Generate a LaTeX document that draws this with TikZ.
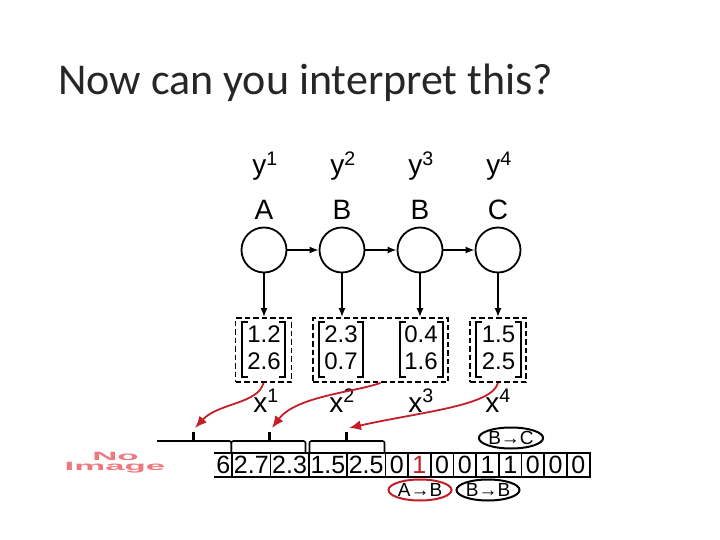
\documentclass[tikz,border=0pt]{standalone}
\usepackage{fontspec}
\setmainfont{Liberation Sans}
\newfontfamily\titlefont{Carlito}
\usetikzlibrary{arrows.meta,shapes.geometric}
\definecolor{arrred}{RGB}{196,30,40}
\definecolor{noimg}{RGB}{238,120,125}
\begin{document}
\begin{tikzpicture}[x=1pt,y=-1pt,
  state/.style={circle,draw,line width=1.8pt,minimum size=45pt,inner sep=0pt},
  blk/.style={-{Latex[length=9pt,width=7pt]},line width=1.6pt},
  dbox/.style={draw,dash pattern=on 5.5pt off 3pt,line width=1.8pt,inner sep=0pt,minimum height=64pt},
  lab/.style={font=\fontsize{28}{28}\selectfont,anchor=base,inner sep=0pt},
  num/.style={font=\fontsize{24}{24}\selectfont,anchor=base,inner sep=0pt},
  mbr/.style={line width=2pt},
  cell/.style={draw,line width=1.7pt,minimum height=24pt,inner sep=0pt,anchor=north west,
    text height=17.5pt,text depth=0pt,font=\fontsize{25}{25}\selectfont},
  wide/.style={minimum width=38.3pt},
  narrow/.style={minimum width=22.7pt},
  redarr/.style={-{Latex[length=12pt,width=10pt]},draw=arrred,line width=1.8pt},
  brace/.style={line width=1.6pt,rounded corners=2pt},
  tick/.style={line width=3pt},
  trans/.style={ellipse,draw,line width=2pt,minimum width=63pt,minimum height=21pt,inner sep=0pt,
    font=\fontsize{19}{19}\selectfont},
  noimgtext/.style={text=noimg,font=\bfseries\fontsize{12}{12}\selectfont,anchor=base,inner sep=0pt}
]
\useasboundingbox[fill=white] (0,0) rectangle (720,540);

% title
\node[font=\titlefont\fontsize{44}{44}\selectfont,anchor=base west,inner sep=0pt,text=black!85] (title) at (58,95) {Now can you interpret this?};

% y labels and states
\node[lab] (y1) at (265,175) {y\textsuperscript{1}};
\node[lab] (y2) at (343,175) {y\textsuperscript{2}};
\node[lab] (y3) at (421,175) {y\textsuperscript{3}};
\node[lab] (y4) at (499,175) {y\textsuperscript{4}};
\node[lab] (s1) at (264,220) {A};
\node[lab] (s2) at (342,220) {B};
\node[lab] (s3) at (420,220) {B};
\node[lab] (s4) at (498,220) {C};

\node[state] (c1) at (264,250) {};
\node[state] (c2) at (342,250) {};
\node[state] (c3) at (420,250) {};
\node[state] (c4) at (498,250) {};
\draw[blk] (c1) -- (c2);
\draw[blk] (c2) -- (c3);
\draw[blk] (c3) -- (c4);

% dashed boxes
\node[dbox,minimum width=56pt] (b1) at (263.5,350) {};
\node[dbox,minimum width=135pt] (b2) at (380.5,350) {};
\node[dbox,minimum width=56pt] (b4) at (498,350) {};
\draw[blk] (c1.south) -- (c1.south |- b1.north);
\draw[blk] (c2.south) -- (c2.south |- b2.north);
\draw[blk] (c3.south) -- (c3.south |- b2.north);
\draw[blk] (c4.south) -- (c4.south |- b4.north);

% matrices
\node[num] (m11) at (264,342) {1.2};
\node[num] (m12) at (264,369) {2.6};
\node[num] (m21) at (341,342) {2.3};
\node[num] (m22) at (341,369) {0.7};
\node[num] (m31) at (421,342) {0.4};
\node[num] (m32) at (421,369) {1.6};
\node[num] (m41) at (498.5,342) {1.5};
\node[num] (m42) at (498.5,369) {2.5};
\draw[mbr] (248,322) -- (242,322) -- (242,377) -- (248,377);
\draw[mbr] (279,322) -- (285,322) -- (285,377) -- (279,377);
\draw[mbr] (325,322) -- (319,322) -- (319,377) -- (325,377);
\draw[mbr] (357,322) -- (363,322) -- (363,377) -- (357,377);
\draw[mbr] (405.5,322) -- (399.5,322) -- (399.5,377) -- (405.5,377);
\draw[mbr] (437,322) -- (443,322) -- (443,377) -- (437,377);
\draw[mbr] (482,322) -- (476,322) -- (476,377) -- (482,377);
\draw[mbr] (515,322) -- (521,322) -- (521,377) -- (515,377);

% x labels
\node[lab] (x1) at (266,412) {x\textsuperscript{1}};
\node[lab] (x2) at (342,412) {x\textsuperscript{2}};
\node[lab] (x3) at (421,412) {x\textsuperscript{3}};
\node[lab] (x4) at (498,412) {x\textsuperscript{4}};

% braces
\draw[brace] (157,441) -- (231.3,441) -- (231.3,452);
\draw[brace] (231.3,452) -- (231.3,441) -- (305.5,441) -- (305.5,452);
\draw[brace] (309.5,452) -- (309.5,441) -- (384.5,441) -- (384.5,452);
\coordinate (k1) at (193,432);
\coordinate (k2) at (269.5,432);
\coordinate (k3) at (346.5,432);
\draw[tick] (193,441) -- (k1);
\draw[tick] (269.5,441) -- (k2);
\draw[tick] (346.5,441) -- (k3);

% red arrows
\coordinate (t1) at (195,428);
\coordinate (t2) at (272,428);
\coordinate (t3) at (349,428);
\draw[redarr] (b1.south) .. controls (258,404) and (218,403) .. (t1);
\draw[redarr] (b2.south) .. controls (356,392) and (296,396) .. (t2);
\draw[redarr] (b4.south) .. controls (492,406) and (420,412) .. (t3);

% cells
\begin{scope}
\clip (214,440) rectangle (600,480);
\node[cell,wide] (k0) at (193,452) {2.6};
\end{scope}
\node[cell,wide] (e1) at (231.3,452) {2.7};
\node[cell,wide] (e2) at (269.6,452) {2.3};
\node[cell,wide] (e3) at (307.9,452) {1.5};
\node[cell,wide] (e4) at (346.2,452) {2.5};
\node[cell,narrow] (d1) at (384.5,452) {0};
\node[cell,narrow,text=arrred] (d2) at (407.2,452) {1};
\node[cell,narrow] (d3) at (429.9,452) {0};
\node[cell,narrow] (d4) at (452.6,452) {0};
\node[cell,narrow] (d5) at (475.3,452) {1};
\node[cell,narrow] (d6) at (498.0,452) {1};
\node[cell,narrow] (d7) at (520.7,452) {0};
\node[cell,narrow] (d8) at (543.4,452) {0};
\node[cell,narrow] (d9) at (566.1,452) {0};

% transitions
\node[trans] (bc) at (511,438) {B→C};
\node[trans,draw=arrred] (ab) at (420,490) {A→B};
\node[trans] (bb) at (488,490) {B→B};

% broken image placeholder
\node[noimgtext] (no) at (115.5,460) {\scalebox{2.9}[1]{No}};
\node[noimgtext] (img) at (115,470.5) {\scalebox{2.9}[1]{Image}};
\end{tikzpicture}
\end{document}
